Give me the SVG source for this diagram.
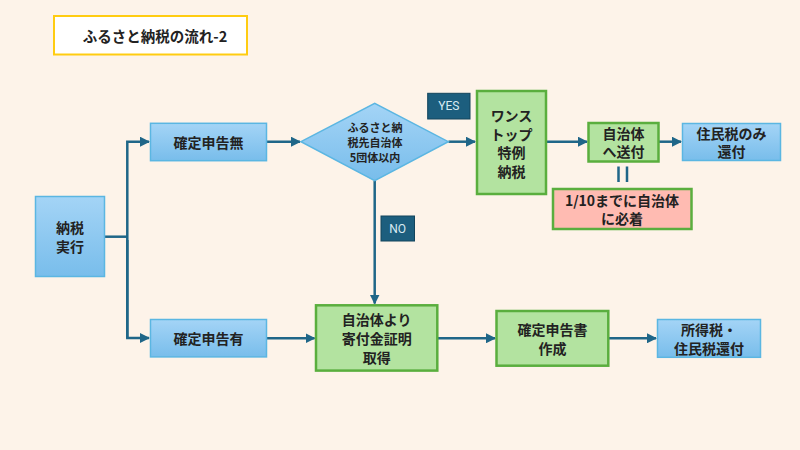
<svg xmlns="http://www.w3.org/2000/svg" width="800" height="450" viewBox="0 0 800 450">
<defs>
<linearGradient id="blue" x1="0" y1="0" x2="0" y2="1">
<stop offset="0" stop-color="#A4D4F6"/>
<stop offset="1" stop-color="#78BDEB"/>
</linearGradient>
<marker id="arr" viewBox="0 0 10 10" refX="9" refY="5" markerWidth="4" markerHeight="4" orient="auto" markerUnits="strokeWidth">
<path d="M0,0 L10,5 L0,10 z" fill="#1F6688"/>
</marker>
<style>
text{font-family:"Noto Sans CJK JP","Noto Sans",sans-serif;font-weight:bold;fill:#222;text-anchor:middle;dominant-baseline:central;}
.b{fill:url(#blue);stroke:#5BB6E2;stroke-width:1.5;}
.g{fill:#B3E3A0;stroke:#5AAE3E;stroke-width:2.5;}
.p{fill:#FFBBB2;stroke:#5AAE3E;stroke-width:2.5;}
.t{font-size:14px;}
.ti{font-size:14.5px;}
.s{font-size:11px;}
.lab{fill:#1C5E7E;stroke:#12445C;stroke-width:1;}
.lt{font-family:Roboto,"Liberation Sans",sans-serif;font-weight:normal;font-size:12px;fill:#D8EAF2;}
.c{fill:none;stroke:#1F6688;stroke-width:2.5;}
</style>
</defs>
<rect width="800" height="450" fill="#FDF3E9"/>
<g id="title">
<rect x="54" y="16" width="193" height="38.5" fill="#FFFFFF" stroke="#FFCC11" stroke-width="2"/>
<text class="ti" x="155" y="35">ふるさと納税の流れ-2</text>
</g>
<g id="connectors">
<path class="c" d="M104.5,236.7 H127.3"/>
<path class="c" d="M127.3,338 V141.7 H149" marker-end="url(#arr)"/>
<path class="c" d="M127.3,240 V338 H149" marker-end="url(#arr)"/>
<path class="c" d="M267,141.7 H300" marker-end="url(#arr)"/>
<path class="c" d="M448.5,141.7 H475" marker-end="url(#arr)"/>
<path class="c" d="M546,141.7 H587" marker-end="url(#arr)"/>
<path class="c" d="M659,141.7 H681" marker-end="url(#arr)"/>
<path class="c" d="M374.7,181 V303.5" marker-end="url(#arr)"/>
<path class="c" d="M267,338.3 H314.5" marker-end="url(#arr)"/>
<path class="c" d="M437.5,338.3 H495" marker-end="url(#arr)"/>
<path class="c" d="M609,338.3 H656" marker-end="url(#arr)"/>
<path class="c" d="M618.5,166.5 V182 M627,166.5 V182" stroke-width="3"/>
</g>
<g id="n_nozei">
<rect class="b" x="35.5" y="196.5" width="69" height="80"/>
<text class="t" x="70" y="227">納税</text>
<text class="t" x="70" y="246">実行</text>
</g>
<g id="n_mu">
<rect class="b" x="150.5" y="123.3" width="116" height="37.4"/>
<text class="t" x="208.5" y="142">確定申告無</text>
</g>
<g id="n_yu">
<rect class="b" x="150.5" y="319.5" width="116" height="37.4"/>
<text class="t" x="208.5" y="338.3">確定申告有</text>
</g>
<g id="n_diamond">
<path class="b" d="M301,141.7 L374.7,103.3 L448.3,141.7 L374.7,180.7 Z"/>
<text class="s" x="375" y="127">ふるさと納</text>
<text class="s" x="375" y="142">税先自治体</text>
<text class="s" x="375" y="157">5団体以内</text>
</g>
<g id="l_yes">
<rect class="lab" x="427.7" y="93.3" width="42.3" height="25.7"/>
<text class="lt" x="448.8" y="106.3">YES</text>
</g>
<g id="l_no">
<rect class="lab" x="381" y="216" width="33.5" height="25"/>
<text class="lt" x="397.7" y="228.7">NO</text>
</g>
<g id="n_onestop">
<rect class="g" x="477" y="91" width="69" height="103"/>
<text class="t" x="511.5" y="115">ワンス</text>
<text class="t" x="511.5" y="133.7">トップ</text>
<text class="t" x="511.5" y="152.4">特例</text>
<text class="t" x="511.5" y="171.1">納税</text>
</g>
<g id="n_sofu">
<rect class="g" x="588.5" y="123" width="70" height="38.5"/>
<text class="t" x="623.5" y="132.5">自治体</text>
<text class="t" x="623.5" y="151">へ送付</text>
</g>
<g id="n_jumin">
<rect class="b" x="682.5" y="123.5" width="98" height="37"/>
<text class="t" x="731.5" y="132.5">住民税のみ</text>
<text class="t" x="731.5" y="151">還付</text>
</g>
<g id="n_hitchaku">
<rect class="p" x="553" y="189" width="138.5" height="40"/>
<text class="t" x="622" y="199.5">1/10までに自治体</text>
<text class="t" x="622" y="218">に必着</text>
</g>
<g id="n_shomei">
<rect class="g" x="316" y="305.3" width="121.3" height="65.3"/>
<text class="t" x="376.7" y="319.3">自治体より</text>
<text class="t" x="376.7" y="338.3">寄付金証明</text>
<text class="t" x="376.7" y="357">取得</text>
</g>
<g id="n_shinkoku">
<rect class="g" x="496.5" y="311" width="111.8" height="54.7"/>
<text class="t" x="552.4" y="329.3">確定申告書</text>
<text class="t" x="552.4" y="347.5">作成</text>
</g>
<g id="n_kanpu">
<rect class="b" x="657.5" y="319.5" width="103" height="37.8"/>
<text class="t" x="709" y="329.3">所得税・</text>
<text class="t" x="709" y="347.5">住民税還付</text>
</g>
</svg>
